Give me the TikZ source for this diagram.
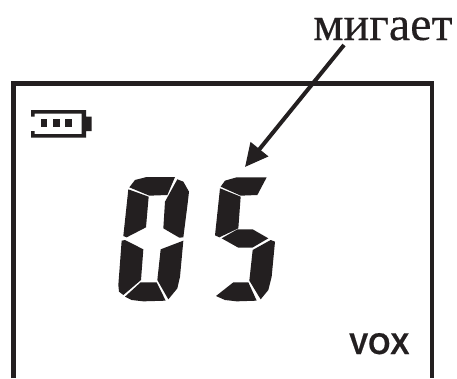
\documentclass[tikz,border=0pt]{standalone}
\usepackage{fontspec}
\setmainfont{Liberation Serif}[FakeBold=0.25]
\newfontfamily\voxfont{Liberation Sans Bold}[FakeBold=0.6]
\usetikzlibrary{arrows.meta}
\definecolor{ink}{HTML}{231F20}
\newcommand{\zp}[2]{({100+#1/3},{130+#2/3})}
\tikzset{
  seg/.style={fill=ink,draw=none},
  frameline/.style={draw=ink,line cap=butt,miter limit=10},
  pointer/.style={draw=ink,line width=4pt,-{Triangle[length=23pt,width=22pt]}}
}
\begin{document}
\begin{tikzpicture}[x=1pt,y=-1pt]
\useasboundingbox (0,0) rectangle (457,378);
\fill[white] (0,0) rectangle (457,378);
% frame
\draw[frameline,line width=5.4pt] (13.2,378) -- (13.2,83.5) -- (434,83.5);
\draw[frameline,line width=4.4pt] (432,81) -- (432,378);
% battery
\fill[ink] (31,110) -- (86,110) -- (86,116.7) -- (91.7,116.7) -- (91.7,131) -- (86,131) -- (86,137.7) -- (31,137.7) -- (31,131) -- (34.5,131) -- (34.5,134) -- (81.5,134) -- (81.5,113.6) -- (34.5,113.6) -- (34.5,116.7) -- (31,116.7) -- cycle;
\fill[ink] (40.5,118.8) rectangle (47,127.4);
\fill[ink] (53,118.8) rectangle (60.2,127.4);
\fill[ink] (64.8,118.8) rectangle (72,127.4);
% digit 0
\fill[seg] \zp{88}{172} -- \zp{105}{150} -- \zp{140}{141} -- \zp{225}{141} -- \zp{202}{195} -- \zp{148}{197} -- cycle;
\fill[seg] \zp{85}{178} -- \zp{146}{200} -- \zp{138}{292} -- \zp{80}{322} -- \zp{70}{318} -- cycle;
\fill[seg] \zp{232}{148} -- \zp{250}{155} -- \zp{267}{185} -- \zp{263}{220} -- \zp{250}{322} -- \zp{238}{323} -- \zp{190}{295} -- \zp{195}{215} -- cycle;
\fill[seg] \zp{65}{332} -- \zp{75}{330} -- \zp{130}{358} -- \zp{123}{450} -- \zp{70}{495} -- \zp{57}{485} -- \zp{55}{465} -- cycle;
\fill[seg] \zp{250}{332} -- \zp{240}{440} -- \zp{232}{475} -- \zp{205}{508} -- \zp{172}{450} -- \zp{182}{358} -- cycle;
\fill[seg] \zp{122}{457} -- \zp{170}{457} -- \zp{197}{512} -- \zp{130}{514} -- \zp{95}{510} -- \zp{75}{500} -- cycle;
% digit 5
\fill[seg] \zp{362}{170} -- \zp{375}{152} -- \zp{410}{142} -- \zp{500}{142} -- \zp{472}{195} -- \zp{422}{197} -- cycle;
\fill[seg] \zp{360}{175} -- \zp{422}{200} -- \zp{415}{295} -- \zp{358}{322} -- \zp{345}{316} -- cycle;
\fill[seg] \zp{365}{325} -- \zp{412}{298} -- \zp{458}{298} -- \zp{505}{325} -- \zp{457}{353} -- \zp{415}{353} -- cycle;
\fill[seg] \zp{525}{335} -- \zp{515}{440} -- \zp{505}{480} -- \zp{482}{508} -- \zp{448}{452} -- \zp{458}{360} -- \zp{512}{330} -- cycle;
\fill[seg] \zp{348}{498} -- \zp{400}{457} -- \zp{445}{457} -- \zp{470}{512} -- \zp{410}{514} -- \zp{375}{510} -- cycle;
% labels
\node[anchor=base west,inner sep=0pt,text=ink,font=\fontsize{48}{48}\selectfont] (lbl) at (313,40) {мигает};
\node[anchor=base west,inner sep=0pt,text=ink,xscale=0.95,font=\voxfont\fontsize{30}{30}\selectfont] (vox) at (349,354) {VOX};
% pointer
\coordinate (tail) at (344,45);
\coordinate (tip) at (245,167);
\draw[pointer] (tail) -- (tip);
\end{tikzpicture}
\end{document}
